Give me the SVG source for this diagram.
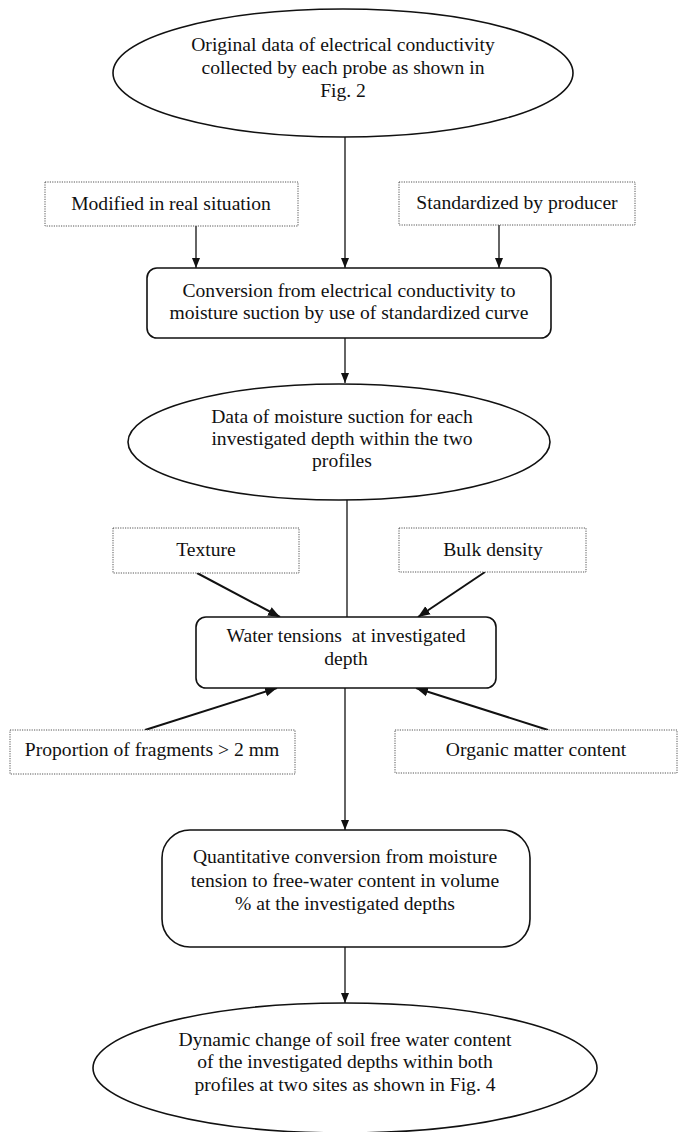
<svg xmlns="http://www.w3.org/2000/svg" width="678" height="1132" viewBox="0 0 678 1132">
<style>
.shape{fill:#fff;stroke:#111;stroke-width:1.6}
.dot{fill:#fff;stroke:#555;stroke-width:1;stroke-dasharray:1.2 1.2}
.t{font-family:"Liberation Serif","Times New Roman",serif;font-size:19.6px;fill:#111;text-anchor:middle;white-space:pre}
.c{stroke:#111;stroke-width:1.3;fill:none}
.cb{stroke:#111;stroke-width:2;fill:none}
</style>
<defs>
<marker id="ah" viewBox="0 0 10 10" refX="10" refY="5" markerWidth="10" markerHeight="10" markerUnits="userSpaceOnUse" orient="auto">
<path d="M0,1 L10,5 L0,9 Z" fill="#111"/>
</marker>
<marker id="ah2" viewBox="0 0 10 10" refX="10" refY="5" markerWidth="12" markerHeight="12" markerUnits="userSpaceOnUse" orient="auto">
<path d="M0,1 L10,5 L0,9 Z" fill="#111"/>
</marker>
</defs>
<rect width="678" height="1132" fill="#fff"/>
<g id="connectors">
<line class="c" x1="345" y1="137" x2="345" y2="268" marker-end="url(#ah)"/>
<line class="c" x1="196" y1="226" x2="196" y2="268" marker-end="url(#ah)"/>
<line class="c" x1="499" y1="225" x2="499" y2="268" marker-end="url(#ah)"/>
<line class="c" x1="345" y1="338" x2="345" y2="383" marker-end="url(#ah)"/>
<line class="c" x1="347" y1="485" x2="347" y2="617"/>
<line class="cb" x1="197" y1="573" x2="280" y2="617" marker-end="url(#ah2)"/>
<line class="cb" x1="485" y1="572" x2="418" y2="617" marker-end="url(#ah2)"/>
<line class="cb" x1="145" y1="730" x2="277" y2="688" marker-end="url(#ah2)"/>
<line class="cb" x1="548" y1="730" x2="416" y2="688" marker-end="url(#ah2)"/>
<line class="c" x1="345" y1="688" x2="345" y2="830" marker-end="url(#ah)"/>
<line class="c" x1="345" y1="947" x2="345" y2="1003" marker-end="url(#ah)"/>
</g>
<g id="n1">
<ellipse class="shape" cx="343" cy="73" rx="230" ry="64"/>
<text class="t" x="343" y="51">Original data of electrical conductivity</text>
<text class="t" x="343" y="74">collected by each probe as shown in</text>
<text class="t" x="343" y="97">Fig. 2</text>
</g>
<g id="n2">
<rect class="dot" x="45" y="182" width="253" height="44"/>
<text class="t" x="171" y="210">Modified in real situation</text>
</g>
<g id="n3">
<rect class="dot" x="399" y="182" width="236" height="43"/>
<text class="t" x="517" y="209">Standardized by producer</text>
</g>
<g id="n4">
<rect class="shape" x="147" y="268" width="404" height="70" rx="10"/>
<text class="t" x="349" y="297">Conversion from electrical conductivity to</text>
<text class="t" x="349" y="319">moisture suction by use of standardized curve</text>
</g>
<g id="n5">
<ellipse class="shape" cx="339" cy="442" rx="211" ry="58"/>
<text class="t" x="342" y="423">Data of moisture suction for each</text>
<text class="t" x="342" y="445">investigated depth within the two</text>
<text class="t" x="342" y="467">profiles</text>
</g>
<g id="n6">
<rect class="dot" x="113" y="528" width="186" height="45"/>
<text class="t" x="206" y="556">Texture</text>
</g>
<g id="n7">
<rect class="dot" x="399" y="528" width="187" height="44"/>
<text class="t" x="493" y="556">Bulk density</text>
</g>
<g id="n8">
<rect class="shape" x="196" y="617" width="300" height="71" rx="10"/>
<text class="t" x="346" y="642">Water tensions  at investigated</text>
<text class="t" x="346" y="665">depth</text>
</g>
<g id="n9">
<rect class="dot" x="10" y="730" width="285" height="44"/>
<text class="t" x="152" y="756">Proportion of fragments &gt; 2 mm</text>
</g>
<g id="n10">
<rect class="dot" x="395" y="730" width="282" height="43"/>
<text class="t" x="536" y="756">Organic matter content</text>
</g>
<g id="n11">
<rect class="shape" x="162" y="830" width="368" height="117" rx="28"/>
<text class="t" x="345" y="863">Quantitative conversion from moisture</text>
<text class="t" x="345" y="887">tension to free-water content in volume</text>
<text class="t" x="345" y="910">% at the investigated depths</text>
</g>
<g id="n12">
<ellipse class="shape" cx="345" cy="1068" rx="252" ry="65"/>
<text class="t" x="345" y="1046">Dynamic change of soil free water content</text>
<text class="t" x="345" y="1068">of the investigated depths within both</text>
<text class="t" x="345" y="1091">profiles at two sites as shown in Fig. 4</text>
</g>
</svg>
